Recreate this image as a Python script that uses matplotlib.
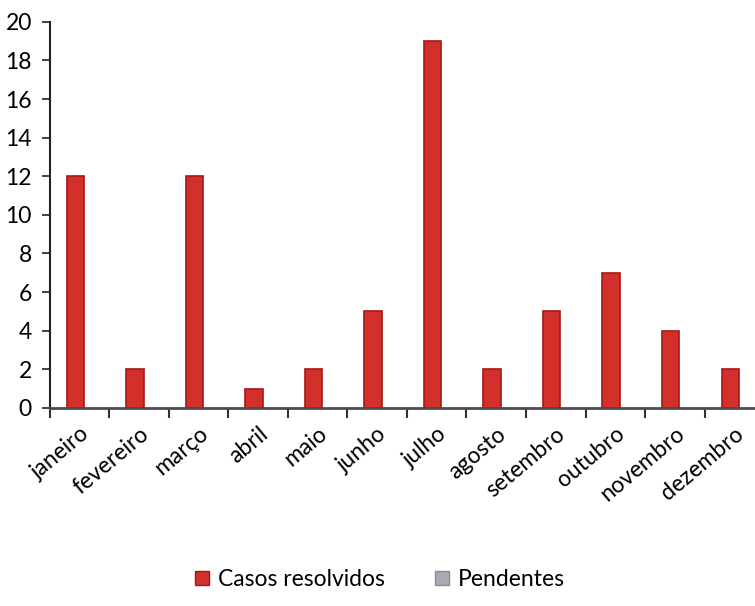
import numpy as np
import matplotlib.pyplot as plt
from matplotlib.lines import Line2D

# dados do grafico
meses = ['janeiro', 'fevereiro', 'março', 'abril', 'maio', 'junho',
         'julho', 'agosto', 'setembro', 'outubro', 'novembro', 'dezembro']
casos_resolvidos = [12, 2, 12, 1, 2, 5, 19, 2, 5, 7, 4, 2]
pendentes = [0, 0, 0, 0, 0, 0, 0, 0, 0, 0, 0, 0]

plt.rcParams['font.family'] = ['Lato', 'DejaVu Sans']

fig = plt.figure(figsize=(7.55, 6.06), dpi=100)
ax = fig.add_axes([0.066, 0.327, 0.946, 0.637])

x = np.arange(len(meses))
w = 0.29
ax.bar(x - 0.07, casos_resolvidos, width=w, color='#d3302b', edgecolor='#a51815', linewidth=1.2)
ax.bar(x + 0.22, pendentes, width=w, color='#a9a9b3', edgecolor='#8a8a94', linewidth=0)

ax.set_xlim(-0.5, 11.5)
ax.set_ylim(0, 20)
ax.set_yticks(range(0, 21, 2))
ax.set_xticks(np.arange(-0.5, 12, 1))
ax.set_xticklabels([])
ax.set_xticks(x, minor=True)
ax.set_xticklabels(meses, minor=True, rotation=40, ha='right', rotation_mode='anchor', fontsize=16.5)
ax.tick_params(axis='x', which='minor', length=0, pad=11)
ax.tick_params(axis='x', which='major', length=7, width=1.5, direction='out', color='#333333')
ax.tick_params(axis='y', length=6, width=1.3, labelsize=16.5, pad=7, color='#333333')

for s in ['top', 'right']:
    ax.spines[s].set_visible(False)
ax.spines['left'].set_linewidth(1.5)
ax.spines['left'].set_color('#222222')
ax.spines['bottom'].set_linewidth(2)
ax.spines['bottom'].set_color('#4a4a55')

handles = [Line2D([], [], marker='s', linestyle='', markersize=10, markerfacecolor='#d3302b', markeredgecolor='#a51815'),
           Line2D([], [], marker='s', linestyle='', markersize=10, markerfacecolor='#a9a9b3', markeredgecolor='#8a8a94')]
fig.legend(handles, ['Casos resolvidos', 'Pendentes'], loc='center', bbox_to_anchor=(0.5, 0.043),
           ncol=2, frameon=False, fontsize=16.5, handletextpad=0.2, columnspacing=2.0, handlelength=1.0)

fig.savefig('out.png', dpi=100)
